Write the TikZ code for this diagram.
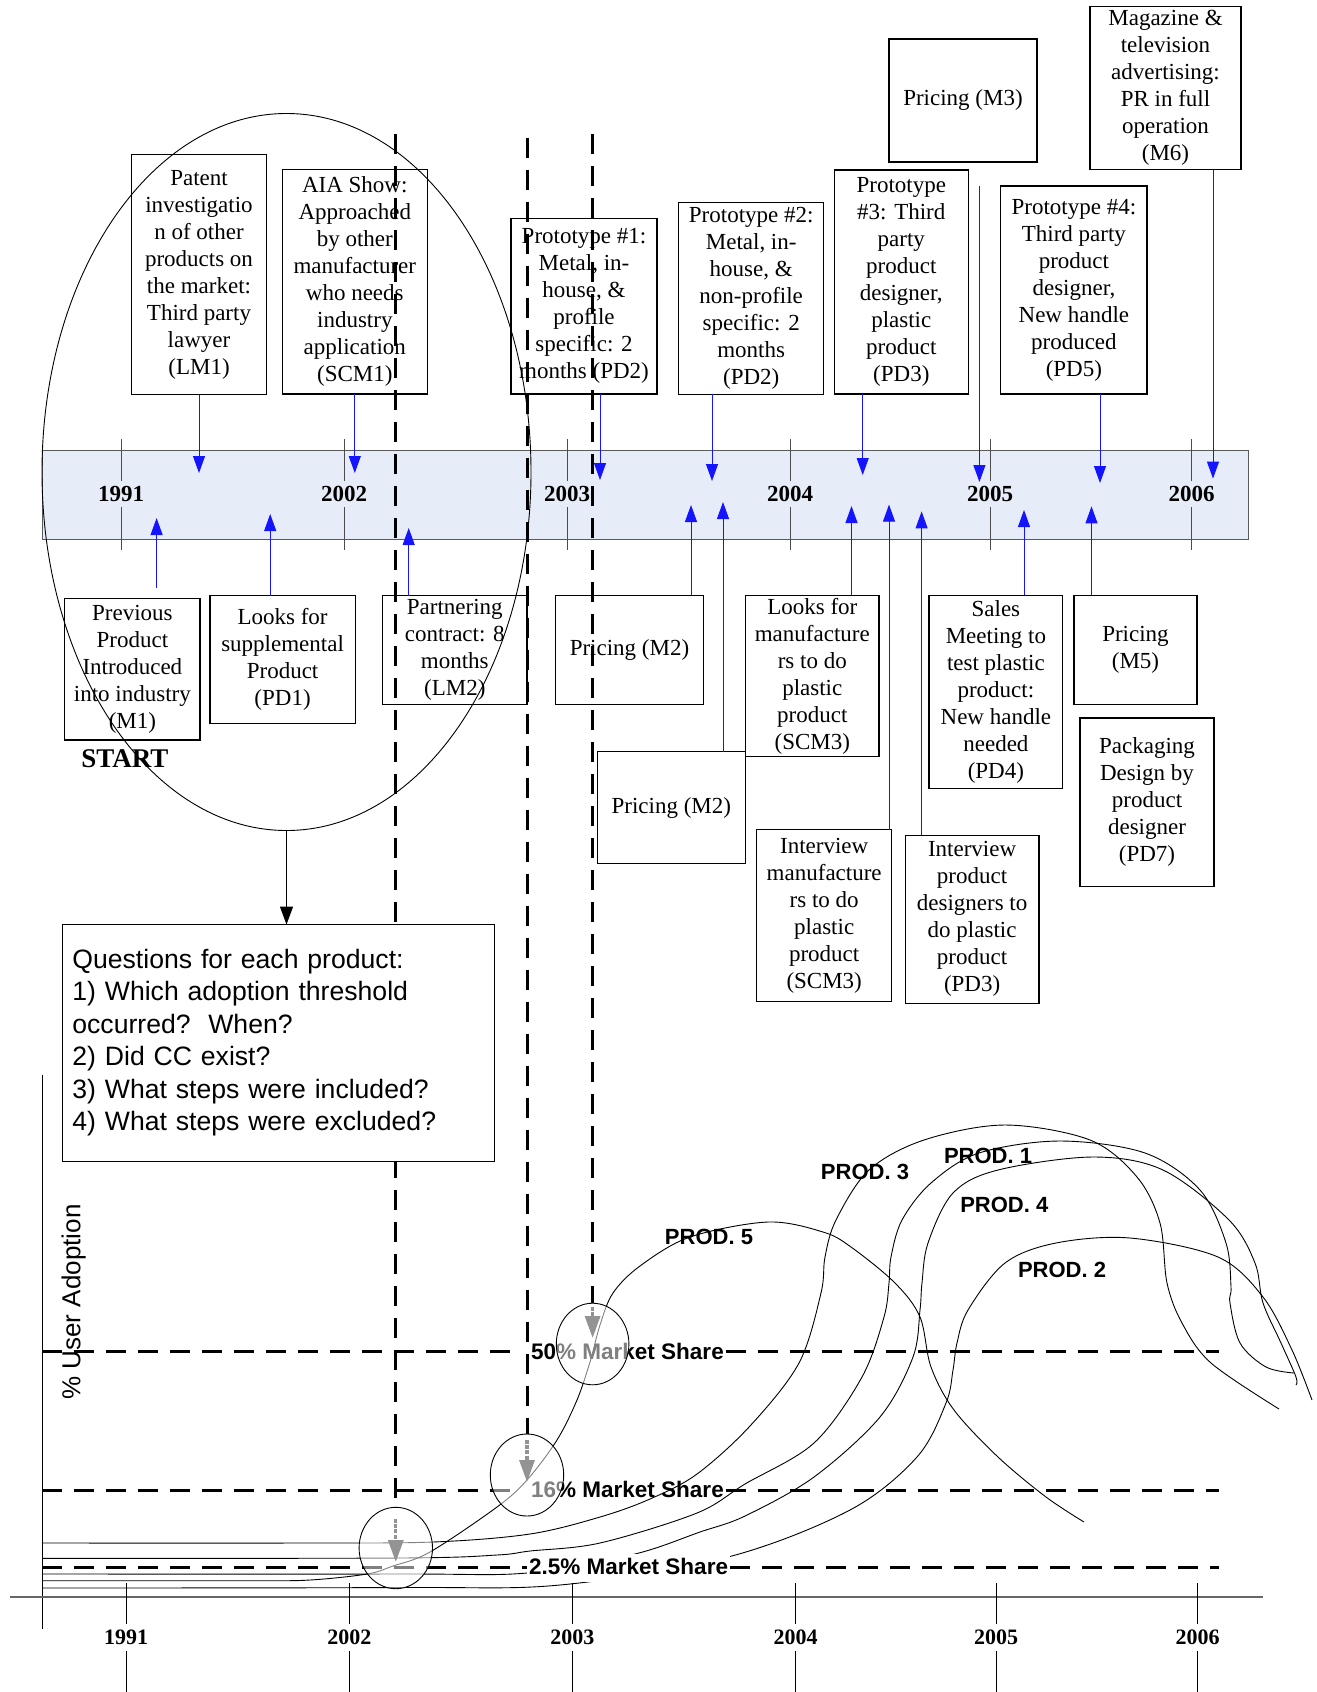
\documentclass[tikz,border=0pt]{standalone}
\usepackage{fontspec}
\setmainfont{Liberation Serif}
\setsansfont{Liberation Sans}
\usetikzlibrary{arrows.meta,shapes.geometric}
\definecolor{bandfill}{RGB}{230,236,248}
\definecolor{arrowblue}{RGB}{20,20,255}
\begin{document}
\begin{tikzpicture}[x=1pt,y=-1pt,
 box/.style={draw, line width=1.1pt, align=center, inner sep=0pt, outer sep=0pt, font=\fontsize{23}{27}\selectfont},
 barrow/.style={color=arrowblue, line width=1pt, -{Triangle[length=17pt,width=12pt]}},
 karrow/.style={line width=1.1pt, -{Triangle[length=18pt,width=13pt]}},
 yearlab/.style={font=\fontsize{23}{27}\selectfont\bfseries, fill=bandfill, inner xsep=1pt, inner ysep=5pt},
 yearlabB/.style={font=\fontsize{22}{26}\selectfont\bfseries, fill=white, inner xsep=1pt, inner ysep=6pt},
 dthick/.style={line width=3pt, dash pattern=on 20pt off 12pt},
 crv/.style={line width=0.9pt},
 mslab/.style={font=\sffamily\bfseries\fontsize{22.5}{27}\selectfont, anchor=base west, inner xsep=2pt, inner ysep=0pt},
 prodlab/.style={font=\sffamily\bfseries\fontsize{22}{26}\selectfont, inner sep=0pt},
 circ/.style={draw, ellipse, line width=0.9pt, fill=white, fill opacity=0.5, inner sep=0pt, outer sep=0pt},
 garrow/.style={draw=gray!85, line width=3.2pt, dash pattern=on 4pt off 1.2pt, -{Triangle[length=22pt,width=15pt,fill=gray!85]}},
]
\useasboundingbox (0,0) rectangle (1317,1692);

% ---------- timeline band ----------
\node[draw=gray!70!black, line width=1pt, fill=bandfill, minimum width=1206pt, minimum height=89pt, inner sep=0pt, outer sep=0pt] (band) at (645,494.5) {};
\foreach \x/\yr in {121/1991, 344/2002, 567/2003, 790/2004, 990/2005, 1191.5/2006} {
  \draw[line width=0.8pt, gray!60!black] (\x,439) -- (\x,550);
  \node[yearlab] (y\yr) at (\x,494) {\yr};
}

% ---------- top boxes ----------
\node[box, minimum width=134.7pt, minimum height=240.4pt] (patent) at (199,274.5) {Patent\\investigatio\\n of other\\products on\\the market:\\Third party\\lawyer\\(LM1)};
\node[box, minimum width=144.8pt, minimum height=224.4pt] (aia) at (354.8,281.8) {AIA Show:\\Approached\\by other\\manufacturer\\who needs\\industry\\application\\(SCM1)};
\node[box, minimum width=146pt, minimum height=175.4pt] (proto1) at (584,306.3) {Prototype \#1:\\Metal, in-\\house, \&\\profile\\specific: 2\\months (PD2)};
\node[box, minimum width=144.9pt, minimum height=191.5pt] (proto2) at (751.2,298.3) {Prototype \#2:\\Metal, in-\\house, \&\\non-profile\\specific: 2\\months\\(PD2)};
\node[box, minimum width=133.5pt, minimum height=224pt] (proto3) at (901.3,282) {Prototype\\\#3: Third\\party\\product\\designer,\\plastic\\product\\(PD3)};
\node[box, minimum width=148pt, minimum height=123pt] (m3) at (963,100.5) {Pricing (M3)};
\node[box, minimum width=146.2pt, minimum height=208pt] (proto4) at (1073.9,290) {Prototype \#4:\\Third party\\product\\designer,\\New handle\\produced\\(PD5)};
\node[box, minimum width=151pt, minimum height=163.2pt] (m6) at (1165.5,88) {Magazine \&\\television\\advertising:\\PR in full\\operation\\(M6)};

% ---------- bottom boxes ----------
\node[box, minimum width=135.2pt, minimum height=141.6pt] (prev) at (132.4,669.2) {Previous\\Product\\Introduced\\into industry\\(M1)};
\node[font=\fontsize{27}{30}\selectfont\bfseries, inner sep=0pt] (start) at (124.8,759) {START};
\node[box, minimum width=145.2pt, minimum height=128.2pt] (suppl) at (282.6,659.6) {Looks for\\supplemental\\Product\\(PD1)};
\node[box, minimum width=144.4pt, minimum height=109pt] (partner) at (454.8,650) {Partnering\\contract: 8\\months\\(LM2)};
\node[box, minimum width=148pt, minimum height=109pt] (pm2a) at (629.5,649.8) {Pricing (M2)};
\node[box, minimum width=147.5pt, minimum height=111.6pt] (pm2b) at (671.3,807.5) {Pricing (M2)};
\node[box, minimum width=133.4pt, minimum height=161.4pt] (lookm) at (812.3,676) {Looks for\\manufacture\\rs to do\\plastic\\product\\(SCM3)};
\node[box, minimum width=135.3pt, minimum height=171.6pt] (intm) at (824.2,915.5) {Interview\\manufacture\\rs to do\\plastic\\product\\(SCM3)};
\node[box, minimum width=133.8pt, minimum height=168pt] (intp) at (972.1,919.3) {Interview\\product\\designers to\\do plastic\\product\\(PD3)};
\node[box, minimum width=133.8pt, minimum height=193.4pt] (sales) at (995.9,692) {Sales\\Meeting to\\test plastic\\product:\\New handle\\needed\\(PD4)};
\node[box, minimum width=123pt, minimum height=109pt] (pm5) at (1135.5,649.8) {Pricing\\(M5)};
\node[box, minimum width=134pt, minimum height=168.7pt] (pack) at (1147,802.3) {Packaging\\Design by\\product\\designer\\(PD7)};

% ---------- blue arrows down ----------
\coordinate (ta1) at (199,473);
\coordinate (ta2) at (354.8,473);
\coordinate (ta3) at (600,480);
\coordinate (ta4) at (712,481);
\coordinate (ta5) at (862.7,475);
\coordinate (ta6s) at (979.4,186);
\coordinate (ta6) at (979.4,482);
\coordinate (ta7) at (1100,483);
\coordinate (ta8) at (1213,478.6);
\draw[barrow] (patent.south -| ta1) -- (ta1);
\draw[barrow] (aia.south -| ta2) -- (ta2);
\draw[barrow] (proto1.south -| ta3) -- (ta3);
\draw[barrow] (proto2.south -| ta4) -- (ta4);
\draw[barrow] (proto3.south -| ta5) -- (ta5);
\draw[barrow] (ta6s) -- (ta6);
\draw[barrow] (proto4.south -| ta7) -- (ta7);
\draw[barrow] (m6.south -| ta8) -- (ta8);

% ---------- blue arrows up ----------
\coordinate (ba1s) at (156.6,588);
\coordinate (ba1) at (156.6,518);
\coordinate (ba2) at (270.2,514);
\coordinate (ba3) at (408.7,528);
\coordinate (ba4) at (691,505);
\coordinate (ba5) at (723,502);
\coordinate (ba6) at (851.5,506);
\coordinate (ba7) at (889,504.6);
\coordinate (ba8) at (921.6,511.4);
\coordinate (ba9) at (1024,510);
\coordinate (ba10) at (1091.5,506.4);
\draw[barrow] (ba1s) -- (ba1);
\draw[barrow] (suppl.north -| ba2) -- (ba2);
\draw[barrow] (partner.north -| ba3) -- (ba3);
\draw[barrow] (pm2a.north -| ba4) -- (ba4);
\draw[barrow] (pm2b.north -| ba5) -- (ba5);
\draw[barrow] (lookm.north -| ba6) -- (ba6);
\draw[barrow] (intm.north -| ba7) -- (ba7);
\draw[barrow] (intp.north -| ba8) -- (ba8);
\draw[barrow] (sales.north -| ba9) -- (ba9);
\draw[barrow] (pm5.north -| ba10) -- (ba10);

% ---------- big ellipse ----------
\node[draw, ellipse, line width=0.9pt, minimum width=489pt, minimum height=717pt, inner sep=0pt, outer sep=0pt] (grp) at (286.5,472) {};

% ---------- lower chart: axes ----------
\draw[line width=1pt] (42.3,1074.7) -- (42.3,1629);
\draw[line width=1.5pt, gray!80!black] (10,1597) -- (1263,1597);
\foreach \x/\yr in {126/1991, 349.3/2002, 572.3/2003, 795.5/2004, 996/2005, 1197.5/2006} {
  \draw[line width=0.9pt] (\x,1583) -- (\x,1692);
  \node[yearlabB] (b\yr) at (\x,1637.5) {\yr};
}
\node[font=\sffamily\fontsize{26}{30}\selectfont, rotate=90, inner sep=0pt] (ylab) at (73.7,1302) {\% User Adoption};

% ---------- market share levels ----------
\node[mslab] (ms50) at (529,1359.5) {50\% Market Share};
\node[mslab] (ms16) at (529,1497.3) {16\% Market Share};
\draw[dthick] (42,1351.8) -- (520,1351.8);
\draw[dthick] (ms50.east |- 0,1351.8) -- (1219,1351.8);
\draw[dthick] (42,1490.7) -- (520,1490.7);
\draw[dthick] (ms16.east |- 0,1490.7) -- (1219,1490.7);
\draw[dthick] (42,1567.7) -- (527,1567.7);

% ---------- product curves ----------
\draw[crv] plot[smooth, tension=0.55] coordinates {(42,1580.7) (250,1580.7) (310,1580) (367,1574) (393,1566) (430,1552) (497,1507) (527,1480) (557,1440) (577,1400) (590,1362) (600,1325) (613,1293) (640,1266) (690,1237) (768,1222) (823,1232) (851,1247) (895,1283) (920,1317) (931,1367) (954,1410) (998,1457) (1046,1497) (1084,1522)};
\draw[crv] plot[smooth, tension=0.55] coordinates {(42,1543) (300,1543) (433,1542) (530,1534) (600,1517) (650,1499) (697,1474) (750,1426) (799,1363) (821,1293) (825,1257) (836,1220) (869,1170) (924,1140) (1005,1125) (1090,1140) (1137,1177) (1160,1223) (1167,1283) (1182,1323) (1211,1363) (1279,1409)};
\draw[crv] plot[smooth, tension=0.55] coordinates {(42,1558.3) (400,1558) (497,1555) (530,1551) (600,1543) (697,1513) (745,1484) (814,1443) (862,1377) (884,1317) (889,1283) (891,1257) (902,1220) (931,1183) (979,1153) (1060,1141) (1145,1153) (1200,1190) (1226,1243) (1231,1287) (1230,1303) (1240,1343) (1266,1367) (1294,1373)};
\draw[crv] plot[smooth, tension=0.55] coordinates {(42,1574) (400,1574) (527,1573) (633,1554.5) (700,1532) (745,1516) (814,1477) (880,1417) (913,1357) (920,1310) (922,1283) (928,1243) (953,1193) (998,1170) (1093,1157) (1163,1170) (1229,1220) (1255,1263) (1263,1303) (1281,1343) (1296,1377) (1296,1385)};
\draw[crv] plot[smooth, tension=0.55] coordinates {(42,1588) (400,1587.5) (560,1585) (728,1557) (850,1510) (917,1457) (946,1403) (953,1370) (957,1343) (968,1310) (1005,1263) (1056,1243) (1130,1238) (1218,1257) (1263,1297) (1292,1350) (1312,1400)};

% ---------- 2.5% label (covers curves) ----------
\node[mslab, fill=white, text height=20.5pt, text depth=8pt] (ms25) at (527,1574) {2.5\% Market Share};
\draw[dthick] (ms25.east |- 0,1567.7) -- (1219,1567.7);

% ---------- product labels ----------
\node[prodlab] (p5) at (709,1237) {PROD. 5};
\node[prodlab] (p3) at (865,1171.7) {PROD. 3};
\node[prodlab] (p1) at (988,1155.7) {PROD. 1};
\node[prodlab] (p4) at (1004.3,1205) {PROD. 4};
\node[prodlab] (p2) at (1062,1270) {PROD. 2};

% ---------- threshold circles ----------
\node[circ, minimum width=73.4pt, minimum height=81.4pt] (c1) at (395.8,1548) {};
\node[circ, minimum width=73.4pt, minimum height=82pt] (c2) at (527,1475) {};
\node[circ, minimum width=72.6pt, minimum height=81.6pt] (c3) at (592.6,1344) {};

% ---------- vertical dashed lines ----------
\coordinate (v1t) at (395.8,134);
\coordinate (v2t) at (527,137.5);
\coordinate (v3t) at (592.6,134);
\draw[dthick] (v1t) -- (c1.north);
\draw[dthick] (v2t) -- (c2.north);
\draw[dthick] (v3t) -- (c3.north);

% ---------- gray arrows in circles ----------
\coordinate (g1s) at (395.8,1519);
\coordinate (g1e) at (395.8,1562);
\coordinate (g2s) at (527,1440);
\coordinate (g2e) at (527,1482);
\coordinate (g3s) at (592.6,1307);
\coordinate (g3e) at (592.6,1338);
\draw[garrow] (g1s) -- (g1e);
\draw[garrow] (g2s) -- (g2e);
\draw[garrow] (g3s) -- (g3e);

% ---------- questions box ----------
\node[draw, line width=1.1pt, fill=white, minimum height=236.5pt, text width=412pt, inner xsep=10pt, inner ysep=0pt, outer sep=0pt, align=left, font=\sffamily\fontsize{26.6}{32.5}\selectfont] (q) at (278.4,1042.8) {Questions for each product:\\1) Which adoption threshold\\occurred?\ \ When?\\2) Did CC exist?\\3) What steps were included?\\4) What steps were excluded?};
\draw[karrow] (grp.south) -- (grp.south |- q.north);
\end{tikzpicture}
\end{document}
